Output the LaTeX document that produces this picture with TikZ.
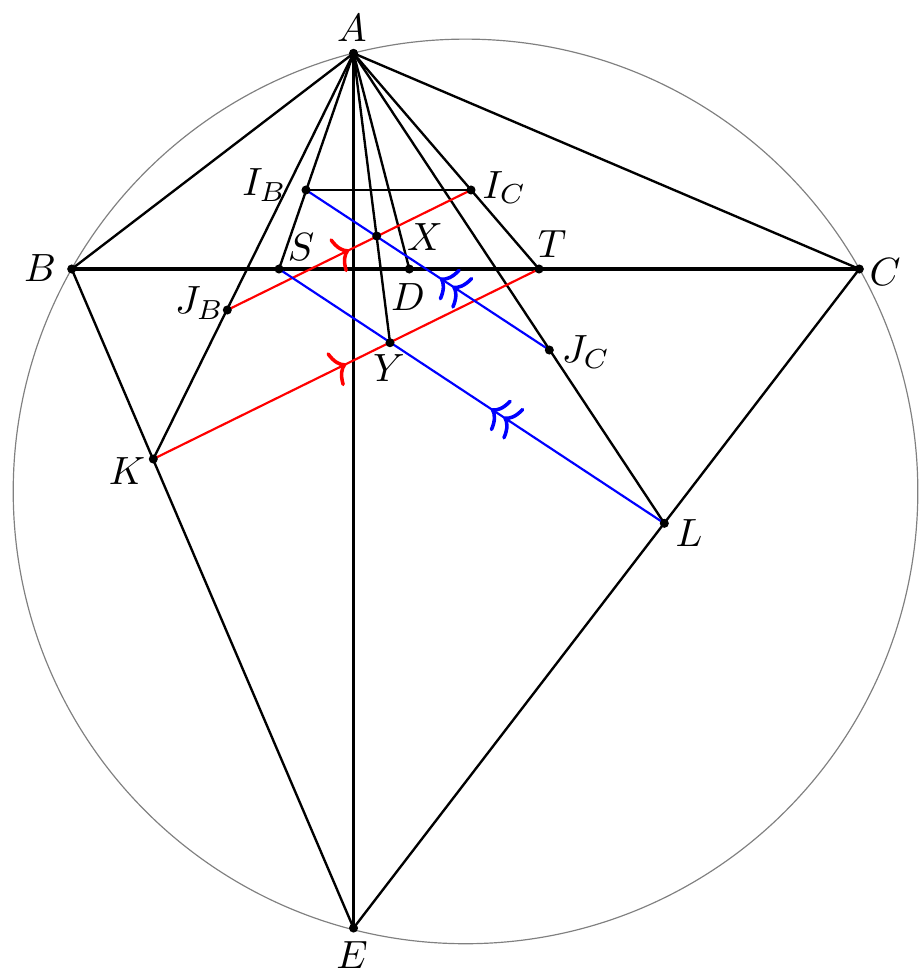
\documentclass[tikz,border=0pt]{standalone}
\usepackage{amsmath}
\usepackage{amssymb}
\usetikzlibrary{arrows.meta,decorations.markings}

\begin{document}
\begin{tikzpicture}[scale=0.0892,
	seg/.style={black,line width=0.6pt},
	pt/.style={circle,fill=black,minimum size=2.3pt},
	redpar/.style={red,line width=0.55pt,postaction={decorate},decoration={markings,mark=at position 0.5 with {\arrow{Computer Modern Rightarrow[length=3.4pt,width=9.5pt,line width=0.9pt]}}}},
	bluepar/.style={blue,line width=0.55pt,postaction={decorate},decoration={markings,mark=at position 0.45 with {\arrow{Computer Modern Rightarrow[length=3.4pt,width=9.5pt,line width=0.9pt,sep=0.4pt] Computer Modern Rightarrow[length=3.4pt,width=9.5pt,line width=0.9pt]}}}}]
						\tikzstyle{every node}+=[inner sep=0pt]
						\useasboundingbox (0,0) rectangle (92.3,-98);
						\coordinate (O) at (46.55,-49.14);
						\coordinate (A) at (35.35,-5.33);
						\coordinate (B) at (7.17,-26.9);
						\coordinate (C) at (85.93,-26.9);
						\coordinate (E) at (35.35,-92.8);
						\coordinate (D) at (40.93,-26.9);
						\coordinate (S) at (27.9,-26.9);
						\coordinate (T) at (53.9,-26.9);
						\coordinate (IB) at (30.6,-19.0);
						\coordinate (IC) at (47.1,-19.0);
						\coordinate (X) at (37.67,-23.6);
						\coordinate (Y) at (39.0,-34.27);
						\coordinate (JB) at (22.73,-31.0);
						\coordinate (JC) at (54.93,-35.0);
						\coordinate (K) at (15.33,-45.9);
						\coordinate (L) at (66.43,-52.33);
						\draw [gray,line width=0.3pt] (O) circle (45.23);
						\draw [seg] (A) -- (B);
						\draw [seg] (A) -- (C);
						\draw [seg,line width=0.8pt] (B) -- (C);
						\draw [seg] (A) -- (K);
						\draw [seg] (A) -- (S);
						\draw [seg] (A) -- (E);
						\draw [seg] (A) -- (Y);
						\draw [seg] (A) -- (D);
						\draw [seg] (A) -- (L);
						\draw [seg] (A) -- (T);
						\draw [seg] (B) -- (E);
						\draw [seg] (C) -- (E);
						\draw [seg] (IB) -- (IC);
						\draw [redpar] (JB) -- (IC);
						\draw [redpar] (K) -- (T);
						\draw [bluepar] (JC) -- (IB);
						\draw [bluepar] (L) -- (S);
						\node [pt] (pA) at (A) {};
						\node [pt] (pB) at (B) {};
						\node [pt] (pC) at (C) {};
						\node [pt] (pE) at (E) {};
						\node [pt] (pD) at (D) {};
						\node [pt] (pS) at (S) {};
						\node [pt] (pT) at (T) {};
						\node [pt] (pIB) at (IB) {};
						\node [pt] (pIC) at (IC) {};
						\node [pt] (pX) at (X) {};
						\node [pt] (pY) at (Y) {};
						\node [pt] (pJB) at (JB) {};
						\node [pt] (pJC) at (JC) {};
						\node [pt] (pK) at (K) {};
						\node [pt] (pL) at (L) {};
						\node (lA) at (35.2,-2.8) {$A$};
						\node (lB) at (4.0,-26.8) {$B$};
						\node (lC) at (88.5,-27.2) {$C$};
						\node (lE) at (35.2,-95.5) {$E$};
						\node (lD) at (40.8,-29.7) {$D$};
						\node (lS) at (30.1,-24.7) {$S$};
						\node (lT) at (55.2,-24.4) {$T$};
						\node (lX) at (42.5,-23.7) {$X$};
						\node (lY) at (38.9,-36.8) {$Y$};
						\node (lIB) at (26.45,-18.5) {$I_B$};
						\node (lIC) at (50.45,-18.75) {$I_C$};
						\node (lJB) at (19.95,-30.3) {$J_B$};
						\node (lJC) at (58.6,-35.2) {$J_C$};
						\node (lK) at (12.7,-47.1) {$K$};
						\node (lL) at (68.9,-53.3) {$L$};
\end{tikzpicture}
\end{document}
